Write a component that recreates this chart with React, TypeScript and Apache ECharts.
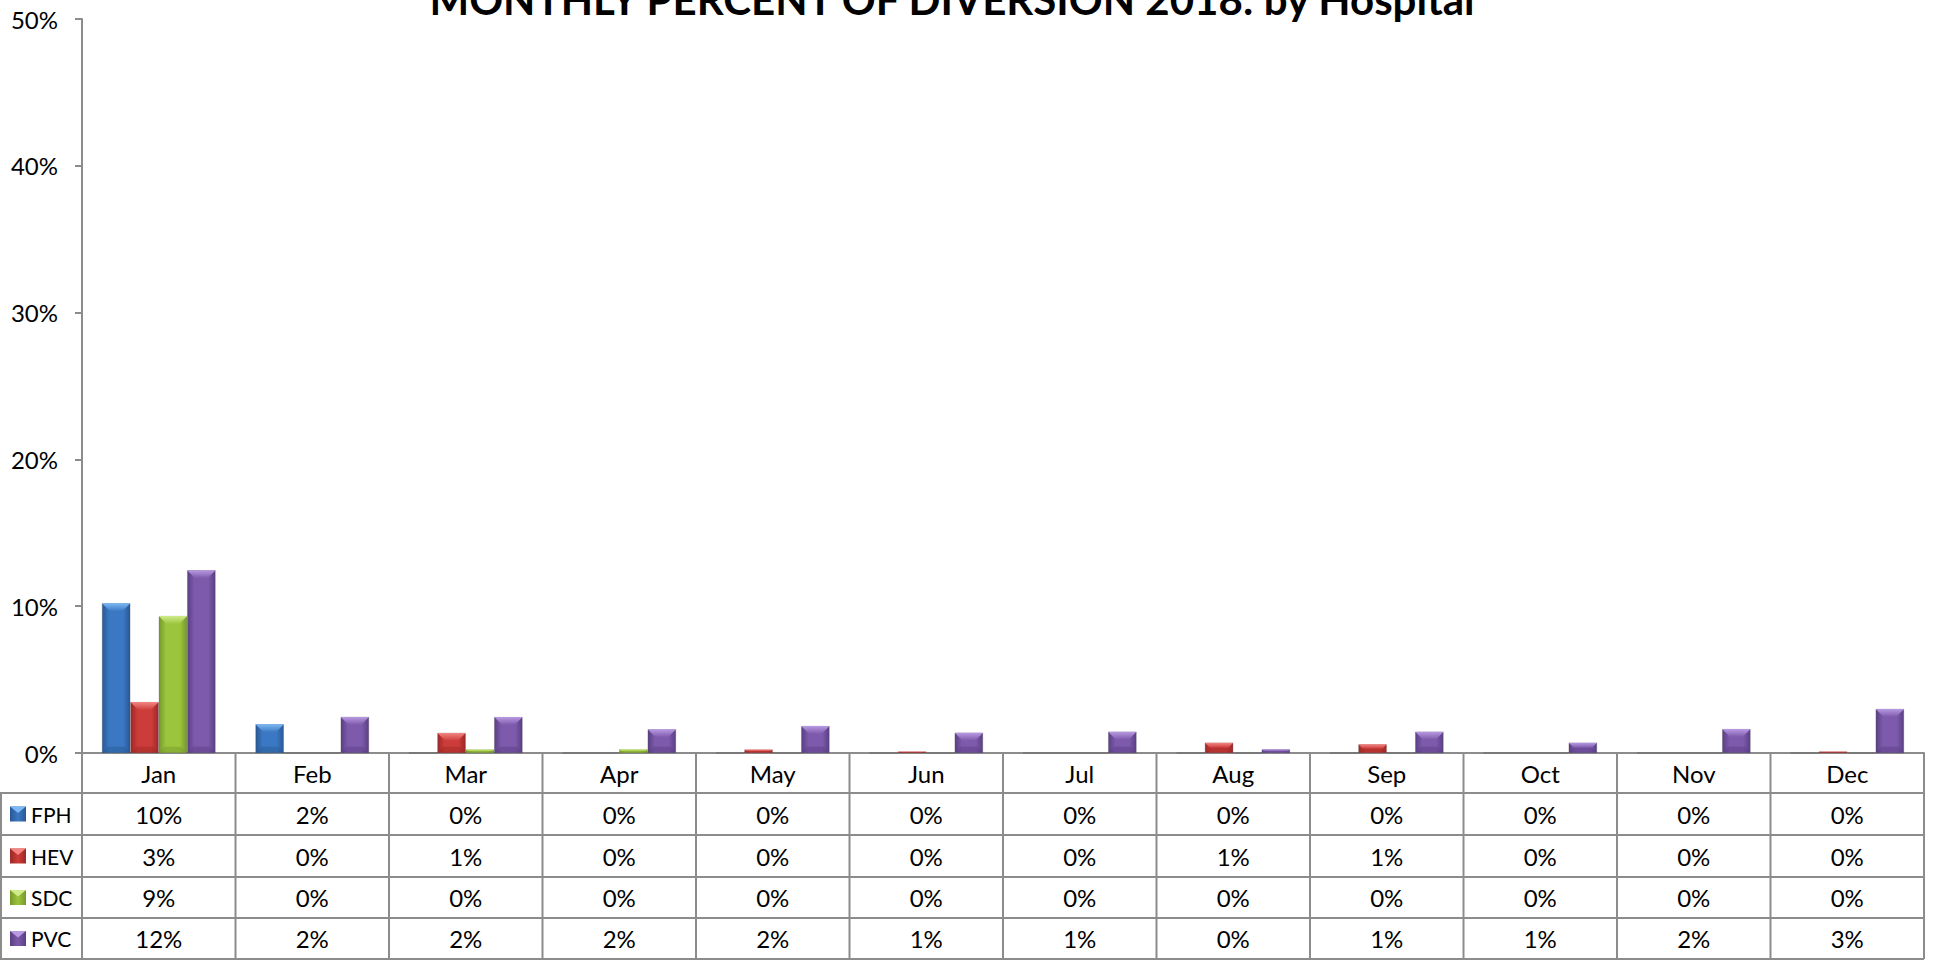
import React, { useEffect, useRef } from "react";
import * as echarts from "echarts";

// ---------- data ----------
const months = ["Jan", "Feb", "Mar", "Apr", "May", "Jun", "Jul", "Aug", "Sep", "Oct", "Nov", "Dec"];
const hospitals = ["FPH", "HEV", "SDC", "PVC"];
const fph = [10.2, 1.96, 0, 0, 0, 0, 0, 0, 0, 0, 0, 0];
const hev = [3.47, 0, 1.37, 0, 0.23, 0.1, 0, 0.7, 0.59, 0, 0, 0.1];
const sdc = [9.33, 0, 0.24, 0.25, 0, 0, 0, 0, 0, 0, 0, 0];
const pvc = [12.45, 2.46, 2.45, 1.61, 1.84, 1.38, 1.45, 0.25, 1.45, 0.7, 1.63, 3.0];
const yMax = 50;
const yStep = 10;
const titleText = "MONTHLY PERCENT OF DIVERSION 2018: by Hospital";

// ---------- layout / style ----------
const W = 1934;
const H = 960;
const GRID_L = 82;
const GRID_R = 1924;
const GRID_T = 19;
const AXIS_Y = 753;
const ROW_Y = [753, 793, 835, 877, 918, 959];
const LINE = "#8c8c8c";
const FONT = "Lato";
const FS = 24;
const CAT_GAP = 0.26;

const palette = [
  { base: "#3b78c4", dark: "#295895", light: "#7cb9f4" },
  { base: "#cc3c3a", dark: "#9c2826", light: "#f38684" },
  { base: "#9cc53e", dark: "#76992a", light: "#d0ec8a" },
  { base: "#7d5aab", dark: "#5a3f84", light: "#b89ae2" },
];

function pct(v: number) {
  return `${Math.round(v)}%`;
}

export default function App() {
  const ref = useRef<HTMLDivElement>(null);

  useEffect(() => {
    if (!ref.current) return;
    const chart = echarts.init(ref.current, null, { renderer: "svg" });
    const seriesData = [fph, hev, sdc, pvc];

    const barSeries = seriesData.map((d, s) => ({
      type: "bar",
      name: hospitals[s],
      data: d,
      barGap: "0%",
      barCategoryGap: `${CAT_GAP * 100}%`,
      z: 2,
      itemStyle: {
        color: new echarts.graphic.LinearGradient(0, 0, 1, 0, [
          { offset: 0, color: palette[s].dark },
          { offset: 0.25, color: palette[s].base },
          { offset: 0.75, color: palette[s].base },
          { offset: 1, color: palette[s].dark },
        ]),
        borderColor: "rgba(70,70,70,0.45)",
        borderWidth: 0.6,
      },
    }));

    const bevelSeries = seriesData.map((d, s) => ({
      type: "custom",
      name: hospitals[s] + "-bevel",
      data: d.map((v, i) => [i, v]),
      encode: { x: 0, y: 1 },
      z: 3,
      silent: true,
      renderItem: (params: any, api: any) => {
        const i = api.value(0);
        const v = api.value(1);
        if (!v) return null;
        const band = api.size([1, 0])[0];
        const avail = band * (1 - CAT_GAP);
        const bw = avail / 4;
        const top = api.coord([i, v]);
        const bot = api.coord([i, 0]);
        const x0 = top[0] - avail / 2 + s * bw;
        const x1 = x0 + bw;
        const yT = top[1];
        const yB = bot[1];
        const h = yB - yT;
        const dT = Math.min(bw * 0.28, h / 2);
        const dB = Math.min(bw * 0.22, h / 2);
        return {
          type: "group",
          children: [
            {
              type: "polygon",
              shape: { points: [[x0, yT], [x1, yT], [x1 - dT, yT + dT], [x0 + dT, yT + dT]] },
              style: {
                fill: new echarts.graphic.LinearGradient(0, 0, 0, 1, [
                  { offset: 0, color: palette[s].light },
                  { offset: 1, color: palette[s].base },
                ]),
              },
            },
            {
              type: "polygon",
              shape: { points: [[x0, yB], [x0 + dB, yB - dB], [x1 - dB, yB - dB], [x1, yB]] },
              style: { fill: palette[s].dark, opacity: 0.45 },
            },
          ],
        };
      },
    }));

    // ---------- table graphics ----------
    const elements: any[] = [];
    const colW = (GRID_R - GRID_L) / months.length;
    const lineStyle = { stroke: LINE, lineWidth: 2 };

    for (let k = 0; k <= months.length; k++) {
      const x = GRID_L + k * colW;
      elements.push({
        type: "line",
        shape: { x1: x, y1: AXIS_Y, x2: x, y2: ROW_Y[ROW_Y.length - 1] },
        style: lineStyle,
        z: 10,
      });
    }
    elements.push({
      type: "line",
      shape: { x1: 1, y1: ROW_Y[1], x2: 1, y2: ROW_Y[ROW_Y.length - 1] },
      style: lineStyle,
      z: 10,
    });
    for (let r = 1; r < ROW_Y.length; r++) {
      elements.push({
        type: "line",
        shape: { x1: 0, y1: ROW_Y[r], x2: GRID_R, y2: ROW_Y[r] },
        style: lineStyle,
        z: 10,
      });
    }
    seriesData.forEach((d, s) => {
      const yc = (ROW_Y[s + 1] + ROW_Y[s + 2]) / 2;
      elements.push({
        type: "rect",
        shape: { x: 10, y: yc - 7.5, width: 16, height: 15 },
        style: {
          fill: new echarts.graphic.LinearGradient(0, 0, 1, 0, [
            { offset: 0, color: palette[s].dark },
            { offset: 0.5, color: palette[s].base },
            { offset: 1, color: palette[s].dark },
          ]),
        },
        z: 11,
      });
      elements.push({
        type: "polygon",
        shape: { points: [[10, yc - 7.5], [26, yc - 7.5], [18, yc - 1]] },
        style: { fill: palette[s].light },
        z: 12,
      });
      elements.push({
        type: "text",
        x: 31,
        y: yc,
        style: {
          text: hospitals[s],
          fontFamily: FONT,
          fontSize: 21,
          fill: "#000",
          textAlign: "left",
          textVerticalAlign: "middle",
        },
        z: 11,
      });
      d.forEach((v, i) => {
        elements.push({
          type: "text",
          x: GRID_L + (i + 0.5) * colW,
          y: yc,
          style: {
            text: pct(v),
            fontFamily: FONT,
            fontSize: FS,
            fill: "#000",
            textAlign: "center",
            textVerticalAlign: "middle",
          },
          z: 11,
        });
      });
    });
    elements.push({
      type: "text",
      x: 952,
      y: -1,
      style: {
        text: titleText,
        fontFamily: FONT,
        fontWeight: "bold",
        fontSize: 42,
        fill: "#000",
        textAlign: "center",
        textVerticalAlign: "middle",
      },
      z: 20,
    });

    chart.setOption({
      animation: false,
      grid: { left: GRID_L, right: W - GRID_R, top: GRID_T, bottom: H - AXIS_Y, containLabel: false },
      xAxis: {
        type: "category",
        data: months,
        axisLine: { show: true, lineStyle: { color: LINE, width: 2 } },
        axisTick: { show: false },
        axisLabel: { margin: 8, fontFamily: FONT, fontSize: FS, color: "#000" },
        splitLine: { show: false },
      },
      yAxis: {
        type: "value",
        min: 0,
        max: yMax,
        interval: yStep,
        axisLine: { show: true, lineStyle: { color: LINE, width: 2 } },
        axisTick: { show: true, length: 7, lineStyle: { color: LINE, width: 2 } },
        axisLabel: {
          margin: 24,
          fontFamily: FONT,
          fontSize: FS,
          color: "#000",
          formatter: (v: number) => `${v}%`,
        },
        splitLine: { show: false },
      },
      series: [...barSeries, ...bevelSeries],
      graphic: { elements },
    });

    return () => chart.dispose();
  }, []);

  return (
    <div
      ref={ref}
      style={{ position: "fixed", left: 0, top: 0, width: W, height: H, background: "#fff" }}
    />
  );
}
